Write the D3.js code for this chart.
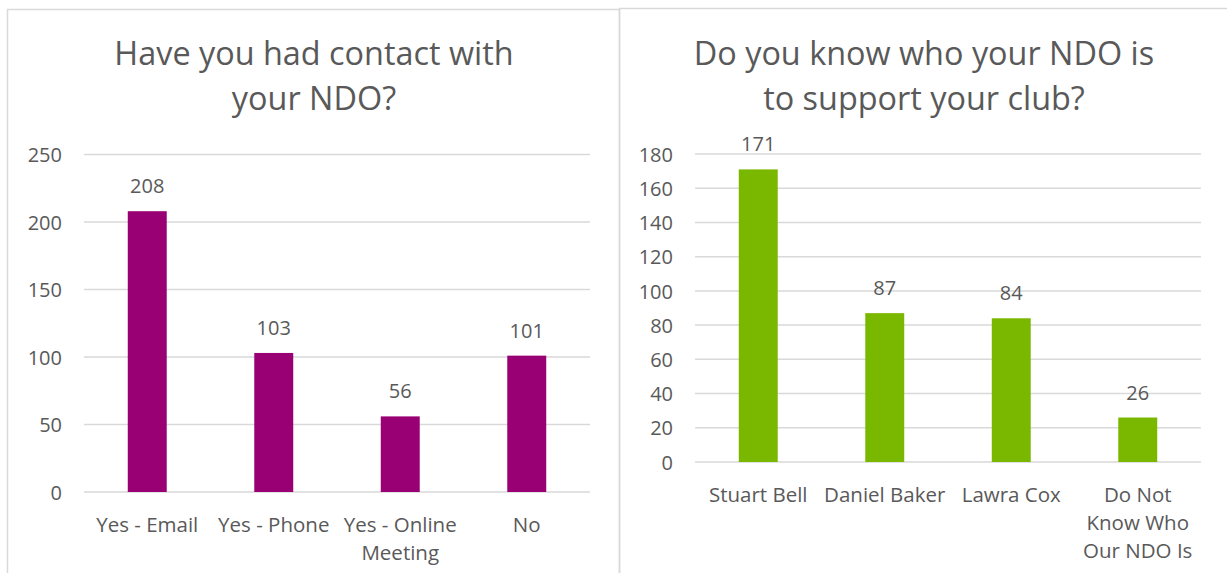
<!DOCTYPE html>
<html>
<head>
<meta charset="utf-8">
<script src="https://cdnjs.cloudflare.com/ajax/libs/d3/7.8.5/d3.min.js"></script>
<style>
  html, body { margin: 0; padding: 0; background: #ffffff; }
  svg { display: block; }
  text { font-family: "Open Sans", "Noto Sans", sans-serif; fill: #595959; }
</style>
</head>
<body>
<svg id="chart" width="1227" height="573"></svg>
<script>
// ---- Data ----
const contactTitle = ["Have you had contact with", "your NDO?"];
const contactCategories = ["Yes - Email", "Yes - Phone", "Yes - Online\nMeeting", "No"];
const contactValues = [208, 103, 56, 101];
const contactTicks = [0, 50, 100, 150, 200, 250];

const knowTitle = ["Do you know who your NDO is", "to support your club?"];
const knowCategories = ["Stuart Bell", "Daniel Baker", "Lawra Cox", "Do Not\nKnow Who\nOur NDO Is"];
const knowValues = [171, 87, 84, 26];
const knowTicks = [0, 20, 40, 60, 80, 100, 120, 140, 160, 180];

const svg = d3.select("#chart");

// Panel borders
svg.append("rect").attr("x", 7.5).attr("y", 9.5).attr("width", 612).attr("height", 600)
  .attr("fill", "none").attr("stroke", "#d9d9d9").attr("stroke-width", 1.5);
svg.append("rect").attr("x", 619.5).attr("y", 8.5).attr("width", 640).attr("height", 600)
  .attr("fill", "none").attr("stroke", "#d9d9d9").attr("stroke-width", 1.5);

function drawChart(cfg) {
  const g = svg.append("g");
  const x = d3.scaleBand().domain(cfg.categories).range(cfg.xRange)
    .paddingInner(0.692).paddingOuter(0.346);
  const y = d3.scaleLinear().domain([0, d3.max(cfg.ticks)]).range(cfg.yRange);

  // Title
  g.selectAll("text.title").data(cfg.title).join("text")
    .attr("class", "title")
    .attr("x", cfg.titleX).attr("y", (d, i) => 65 + i * 45)
    .attr("text-anchor", "middle")
    .style("font-size", "32.4px")
    .text(d => d);

  // Gridlines
  g.selectAll("line.grid").data(cfg.ticks).join("line")
    .attr("class", "grid")
    .attr("x1", cfg.xRange[0]).attr("x2", cfg.xRange[1])
    .attr("y1", d => y(d)).attr("y2", d => y(d))
    .attr("stroke", "#d9d9d9").attr("stroke-width", 1.5);

  // Y axis
  const yAxis = d3.axisLeft(y).tickValues(cfg.ticks).tickSize(0).tickPadding(22)
    .tickFormat(d3.format("d"));
  const ya = g.append("g").attr("transform", `translate(${cfg.xRange[0]},0)`).call(yAxis);
  ya.select(".domain").remove();
  ya.selectAll("text").style("font-size", "20px").attr("fill", "#595959")
    .style("font-family", "'Open Sans', 'Noto Sans', sans-serif").attr("dy", "0.36em");

  // Bars
  g.selectAll("rect.bar").data(cfg.values).join("rect")
    .attr("class", "bar")
    .attr("x", (d, i) => x(cfg.categories[i]))
    .attr("width", x.bandwidth())
    .attr("y", d => y(d))
    .attr("height", d => y(0) - y(d))
    .attr("fill", cfg.color);

  // Data labels
  g.selectAll("text.val").data(cfg.values).join("text")
    .attr("class", "val")
    .attr("x", (d, i) => x(cfg.categories[i]) + x.bandwidth() / 2)
    .attr("y", d => y(d) - 18)
    .attr("text-anchor", "middle")
    .style("font-size", "20px")
    .text(d => d);

  // Category labels
  const labels = g.selectAll("text.cat").data(cfg.categories).join("text")
    .attr("class", "cat")
    .attr("text-anchor", "middle")
    .style("font-size", "20.5px");
  labels.each(function (d) {
    const t = d3.select(this);
    d.split("\n").forEach((ln, k) => {
      t.append("tspan")
        .attr("x", x(d) + x.bandwidth() / 2)
        .attr("y", y(0) + 40 + k * 28)
        .text(ln);
    });
  });
}

drawChart({
  title: contactTitle,
  titleX: 314,
  categories: contactCategories,
  values: contactValues,
  ticks: contactTicks,
  xRange: [84, 590],
  yRange: [492, 154.5],
  color: "#990073"
});

drawChart({
  title: knowTitle,
  titleX: 924,
  categories: knowCategories,
  values: knowValues,
  ticks: knowTicks,
  xRange: [695, 1201],
  yRange: [462, 154],
  color: "#7ab800"
});
</script>
</body>
</html>
